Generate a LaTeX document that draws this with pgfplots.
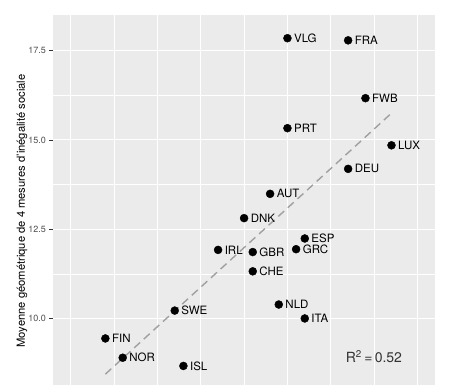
\documentclass[border=0pt]{standalone}
\usepackage{pgfplots}
\pgfplotsset{compat=1.18}
\usepackage{fontspec}
\setmainfont{TeX Gyre Heros}
\definecolor{panelbg}{HTML}{EBEBEB}
\definecolor{ticklab}{HTML}{4D4D4D}
\definecolor{tickcol}{HTML}{333333}
\definecolor{fitcol}{HTML}{A0A0A0}
\begin{document}
\begin{tikzpicture}
\begin{axis}[
  at={(0pt,0pt)}, anchor=south west,
  scale only axis, width=382pt, height=370pt,
  xmin=-0.204, xmax=4.202, ymin=8.136, ymax=18.5,
  axis background/.style={fill=panelbg},
  axis line style={draw=none},
  xtick={0,1,2,3,4}, xticklabels={},
  minor x tick num=1,
  ytick={10,12.5,15,17.5},
  minor y tick num=1,
  yticklabel style={/pgf/number format/fixed, /pgf/number format/fixed zerofill, /pgf/number format/precision=1, font=\fontsize{9}{10}\selectfont, text=ticklab},
  /pgf/number format/assume math mode=true,
  xtick pos=bottom, ytick pos=left,
  tick align=outside,
  major tick length=3.5pt, minor tick length=0pt,
  major tick style={tickcol, line width=0.6pt},
  grid=both,
  major grid style={white, line width=1.1pt},
  minor grid style={white, line width=0.55pt},
  clip=false,
]
\addplot[fitcol, line width=1.4pt, dash pattern=on 8pt off 5pt] coordinates {(0.4,8.44) (3.7,15.75)};
\addplot[only marks, mark=*, mark size=4pt, black,
  nodes near coords, point meta=explicit symbolic,
  every node near coord/.append style={anchor=west, inner sep=0pt, xshift=6.5pt, font=\fontsize{11.5}{13}\selectfont, text=black}]
  table[meta=label] {
x y label
2.5 17.85 VLG
3.2 17.79 FRA
3.4 16.17 FWB
2.5 15.33 PRT
3.7 14.85 LUX
3.2 14.19 DEU
2.3 13.49 AUT
2.0 12.81 DNK
2.7 12.24 ESP
1.7 11.92 IRL
2.1 11.86 GBR
2.6 11.94 GRC
2.1 11.32 CHE
2.4 10.39 NLD
1.2 10.22 SWE
2.7 10.00 ITA
1.3 8.67 ISL
0.4 9.44 FIN
0.6 8.90 NOR
};
\node[font=\fontsize{14}{16}\selectfont, text=tickcol] at (axis cs:3.498,8.92) {R\textsuperscript{2}\,=\,0.52};
\end{axis}
\node[rotate=90, font=\fontsize{11.2}{13}\selectfont, text=black] at (-31pt,174pt) {Moyenne géométrique de 4 mesures d'inégalité sociale};
\pgfresetboundingbox
\path[use as bounding box] (-53pt,0pt) rectangle (397pt,385pt);
\end{tikzpicture}
\end{document}
